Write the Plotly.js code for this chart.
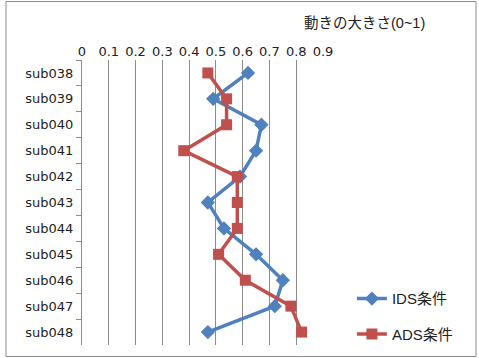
<!DOCTYPE html>
<html>
<head>
<meta charset="utf-8">
<script src="https://cdn.plot.ly/plotly-3.0.1.min.js"></script>
<style>
  html, body { margin: 0; padding: 0; background: #fff; }
  #chart { width: 479px; height: 358px; }
</style>
</head>
<body>
<div id="chart"></div>
<script>
// Subjects, top to bottom
const subjects = ["sub038", "sub039", "sub040", "sub041", "sub042", "sub043",
                  "sub044", "sub045", "sub046", "sub047", "sub048"];
// Movement magnitude (0~1) per condition
const idsValues = [0.62, 0.49, 0.67, 0.65, 0.59, 0.47, 0.53, 0.65, 0.75, 0.72, 0.47];
const adsValues = [0.47, 0.54, 0.54, 0.38, 0.58, 0.58, 0.58, 0.51, 0.61, 0.78, 0.82];
const xTickVals = [0, 0.1, 0.2, 0.3, 0.4, 0.5, 0.6, 0.7, 0.8, 0.9];
const xTickText = ["0", "0.1", "0.2", "0.3", "0.4", "0.5", "0.6", "0.7", "0.8", "0.9"];
const seriesNames = ["IDS条件", "ADS条件"];
const axisTitle = "動きの大きさ(0~1)";

const FONT = "Liberation Sans, Noto Sans CJK JP, sans-serif";
const TICK_FONT = "DejaVu Sans, sans-serif";

const traces = [
  {
    x: idsValues, y: subjects, name: seriesNames[0], type: "scatter", mode: "lines+markers",
    line: { color: "#4F81BD", width: 3.5 },
    marker: { symbol: "diamond", size: 11, color: "#4F81BD" },
    legendgroup: "a", cliponaxis: false
  },
  {
    x: adsValues, y: subjects, name: seriesNames[1], type: "scatter", mode: "lines+markers",
    line: { color: "#C0504D", width: 3.5 },
    marker: { symbol: "square", size: 11, color: "#C0504D" },
    legendgroup: "b", cliponaxis: false
  }
];

const layout = {
  width: 479, height: 358,
  margin: { l: 82, r: 156, t: 60, b: 13, autoexpand: false },
  paper_bgcolor: "#fff", plot_bgcolor: "#fff",
  font: { family: FONT, size: 13, color: "#222" },
  showlegend: true,
  legend: {
    x: 1.12, y: 0.22, xanchor: "left", yanchor: "top",
    font: { family: FONT, size: 15, color: "#222" },
    tracegroupgap: 13, bgcolor: "rgba(0,0,0,0)"
  },
  xaxis: {
    side: "top", range: [0, 0.9], tickvals: xTickVals, ticktext: xTickText,
    showgrid: true, gridcolor: "#8c8c8c", gridwidth: 1, automargin: false,
    zeroline: false, showline: false, ticks: "",
    tickfont: { family: TICK_FONT, size: 13, color: "#222" }
  },
  yaxis: {
    type: "category", range: [subjects.length - 0.5, -0.5], automargin: false,
    showgrid: false, zeroline: false,
    showline: true, linecolor: "#8c8c8c", linewidth: 1,
    ticks: "outside", ticklen: 5, tickcolor: "#8c8c8c", tickson: "boundaries",
    ticklabelstandoff: 5,
    tickfont: { family: TICK_FONT, size: 13, color: "#222" }
  },
  annotations: [{
    text: axisTitle, xref: "paper", yref: "paper",
    x: (364 - 82) / 241, y: (345 - 23) / 285, xanchor: "center", yanchor: "middle",
    showarrow: false, font: { family: FONT, size: 14.5, color: "#222" }
  }],
  shapes: [{
    type: "rect", xref: "paper", yref: "paper",
    x0: (6 - 82) / 241, x1: (476 - 82) / 241,
    y0: (345 - 356.5) / 285, y1: (345 - 1.5) / 285,
    line: { color: "#8c8c8c", width: 1 }, fillcolor: "rgba(0,0,0,0)"
  }]
};

Plotly.newPlot("chart", traces, layout, { displayModeBar: false, staticPlot: true });
</script>
</body>
</html>
